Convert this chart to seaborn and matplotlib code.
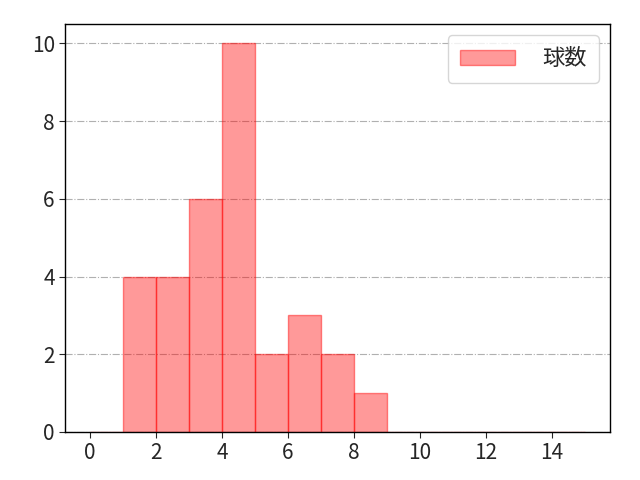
import numpy as np
import pandas as pd
import matplotlib
matplotlib.use("Agg")
import matplotlib.pyplot as plt
import seaborn as sns

# 球数の分布 (bin left edge -> count)
bin_left = [0, 1, 2, 3, 4, 5, 6, 7, 8, 9, 10, 11, 12, 13, 14]
counts = [0, 4, 4, 6, 10, 2, 3, 2, 1, 0, 0, 0, 0, 0, 0]

sns.set_style("white")
plt.rcParams['font.family'] = ['Noto Sans CJK JP', 'DejaVu Sans']

df = pd.DataFrame({'x': bin_left, 'n': counts})

fig, ax = plt.subplots(figsize=(6.4, 4.8), dpi=100)
sns.histplot(data=df, x='x', weights='n', binwidth=1, binrange=(0, 15), ax=ax,
             color='red', alpha=0.4, edgecolor=(1, 0, 0, 0.45), linewidth=1,
             label='球数')

ax.set_xlabel('')
ax.set_ylabel('')
ax.set_xticks(range(0, 16, 2))
ax.tick_params(labelsize=15, length=4, direction='out', left=True, bottom=True)
ax.grid(axis='y', linestyle='-.', color='#b0b0b0', linewidth=0.8)
ax.set_axisbelow(True)
for s in ax.spines.values():
    s.set_color('black')
    s.set_linewidth(1)
ax.legend(loc='upper right', fontsize=16, handlelength=2.5, borderpad=0.55,
          handletextpad=1.2)

fig.subplots_adjust(left=0.102, right=0.953, top=0.95, bottom=0.1)
fig.savefig('out.png')
